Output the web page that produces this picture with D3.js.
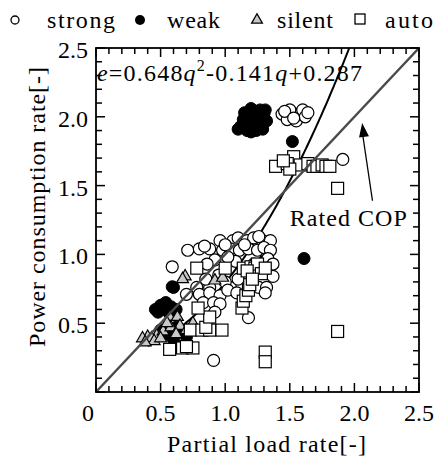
<!DOCTYPE html>
<html><head><meta charset="utf-8">
<script src="https://cdn.jsdelivr.net/npm/d3@7/dist/d3.min.js"></script>
</head><body style="margin:0">
<svg id="chart" width="436" height="459"></svg>
<script>
// ---- data (partial load rate q, power consumption rate e) ----
const seriesNames = ["strong", "weak", "silent", "auto"];
const strongData = [
  [1.44,2.02],[1.48,1.98],[1.52,2.03],[1.55,1.97],[1.58,2.02],[1.60,2.05],[1.62,2.00],[1.64,2.03],[1.50,2.05],[1.46,2.04],[1.53,1.99],
  [1.91,1.69],
  [0.96,1.10],[1.06,1.10],[1.10,1.12],[1.17,1.10],[1.22,1.12],[1.29,1.10],[1.35,1.10],[1.26,1.13],
  [0.71,1.03],[0.80,1.04],[0.88,1.04],[0.98,1.03],[1.04,1.04],[1.11,1.03],[1.18,1.04],[1.25,1.03],[1.30,1.05],[1.35,1.03],[0.84,1.06],[1.00,1.07],[1.15,1.07],
  [0.59,0.91],
  [0.92,0.96],[1.08,0.95],[1.33,0.97],[1.37,0.93],[0.86,0.93],[1.02,0.98],
  [0.78,0.76],[0.88,0.76],[1.04,0.76],[1.26,0.76],[1.32,0.76],[0.85,0.82],[0.95,0.85],[1.00,0.80],[1.10,0.82],[1.37,0.84],
  [0.70,0.71],[0.80,0.71],[0.88,0.72],[0.96,0.70],[1.02,0.74],[1.09,0.72],[1.31,0.72],
  [0.83,0.65],[0.91,0.65],[0.96,0.64],[0.92,0.58],
  [1.18,0.54],[0.91,0.23]
];
const weakData = [
  [1.12,1.93],[1.14,1.98],[1.15,2.03],[1.17,1.90],[1.18,1.95],[1.19,2.02],[1.20,2.06],[1.21,1.92],[1.22,1.98],[1.23,2.04],
  [1.24,1.90],[1.25,1.94],[1.26,2.00],[1.27,2.05],[1.28,1.96],[1.29,1.91],[1.30,2.02],[1.31,2.05],[1.32,1.97],[1.16,1.94],[1.20,1.89],[1.10,1.91],
  [1.52,1.82],[1.61,0.97],
  [0.59,0.765],[0.60,0.76],
  [0.46,0.60],[0.50,0.63],[0.54,0.65],[0.58,0.62],[0.62,0.60],[0.48,0.58],[0.56,0.58],
  [0.50,0.45],[0.55,0.42],[0.62,0.47],[0.67,0.44],[0.70,0.40],[0.60,0.38],
  [1.22,0.93],[1.27,0.90],[1.30,0.95]
];
const silentData = [
  [0.69,0.84],[0.92,0.81],[0.98,0.83],[0.67,0.82],
  [0.57,0.545],[0.63,0.545],
  [0.40,0.40],[0.47,0.41],[0.36,0.39],[0.43,0.39],[0.52,0.44],[0.58,0.47],[0.65,0.48],[0.70,0.45],[0.55,0.50],[0.75,0.50],[0.45,0.37],[0.38,0.36],[0.62,0.42],[0.50,0.39]
];
const autoData = [
  [1.39,1.64],[1.53,1.71],[1.48,1.66],[1.58,1.65],[1.64,1.66],[1.68,1.64],[1.71,1.64],[1.75,1.65],[1.78,1.64],[1.81,1.64],[1.50,1.62],[1.45,1.68],
  [1.87,1.48],[1.87,0.44],[1.31,0.29],[1.31,0.22],
  [0.78,0.90],[1.00,0.90],[1.14,0.90],[1.20,0.91],[1.23,0.90],[1.26,0.88],[1.29,0.90],[1.25,0.93],[1.28,0.86],[1.31,0.90],[1.17,0.88],
  [1.13,0.61],[1.14,0.66],[1.16,0.70],[1.18,0.74],[1.19,0.78],[1.21,0.82],
  [0.73,0.45],[0.82,0.45],[0.88,0.45],[0.975,0.45],[0.85,0.47],
  [0.57,0.31],[0.67,0.32],[0.75,0.32],[0.70,0.33],
  [0.88,0.545],[0.79,0.61]
];
const fitCoef = [0.648, -0.141, 0.287];   // e = a q^2 + b q + c
const fitRange = [0.4, 1.96];
const ratedLine = [[0,0],[2.5,2.5]];
const xTickLabels = ["0","0.5","1.0","1.5","2.0","2.5"];
const yTickLabels = ["0.5","1.0","1.5","2.0","2.5"];

const svg = d3.select("#chart");
const x = d3.scaleLinear().domain([0,2.5]).range([96,419]);
const y = d3.scaleLinear().domain([0,2.5]).range([392,48]);

function draw() {
  const plot = svg.append("g");

  // fit curve (under markers)
  const fitPts = d3.range(fitRange[0], fitRange[1]+0.0001, 0.01)
    .map(q => [q, fitCoef[0]*q*q + fitCoef[1]*q + fitCoef[2]]).filter(d => d[1] <= 2.5);
  plot.append("path").datum(fitPts)
    .attr("d", d3.line().x(d=>x(d[0])).y(d=>y(d[1])))
    .attr("fill","none").attr("stroke","#000").attr("stroke-width",2);

  // markers
  const mg = plot.append("g");
  mg.selectAll(".wk").data(weakData).join("circle")
    .attr("cx",d=>x(d[0])).attr("cy",d=>y(d[1])).attr("r",6)
    .attr("fill","#000").attr("stroke","#000").attr("stroke-width",1);
  mg.selectAll(".st").data(strongData).join("circle")
    .attr("cx",d=>x(d[0])).attr("cy",d=>y(d[1])).attr("r",6)
    .attr("fill","#fff").attr("stroke","#000").attr("stroke-width",1.2);
  const tri = d3.symbol().type(d3.symbolTriangle).size(62);
  mg.selectAll(".si").data(silentData).join("path")
    .attr("transform",d=>`translate(${x(d[0])},${y(d[1])})`)
    .attr("d",tri).attr("fill","#c8c8c8").attr("stroke","#000").attr("stroke-width",1.2);
  mg.selectAll(".au").data(autoData).join("rect")
    .attr("x",d=>x(d[0])-6).attr("y",d=>y(d[1])-6).attr("width",12).attr("height",12)
    .attr("fill","#fff").attr("stroke","#000").attr("stroke-width",1.2);

  // rated COP line (on top of markers)
  plot.append("path").datum(ratedLine)
    .attr("d", d3.line().x(d=>x(d[0])).y(d=>y(d[1])))
    .attr("fill","none").attr("stroke","#4a4a4a").attr("stroke-width",2.5);

  // frame + ticks
  const axG = plot.append("g");
  axG.append("rect").attr("x",x(0)).attr("y",y(2.5)).attr("width",x(2.5)-x(0)).attr("height",y(0)-y(2.5))
    .attr("fill","none").attr("stroke","#000").attr("stroke-width",1.8);
  d3.range(0, 2.5001, 0.1).forEach(v => {
    const major = Math.abs(v/0.5 - Math.round(v/0.5)) < 1e-6;
    const L = major ? 9 : 6;
    axG.append("line").attr("x1",x(v)).attr("x2",x(v)).attr("y1",y(0)).attr("y2",y(0)-L).attr("stroke","#000").attr("stroke-width",1.5);
    axG.append("line").attr("x1",x(v)).attr("x2",x(v)).attr("y1",y(2.5)).attr("y2",y(2.5)+L).attr("stroke","#000").attr("stroke-width",1.5);
    axG.append("line").attr("y1",y(v)).attr("y2",y(v)).attr("x1",x(0)).attr("x2",x(0)+L).attr("stroke","#000").attr("stroke-width",1.5);
    axG.append("line").attr("y1",y(v)).attr("y2",y(v)).attr("x1",x(2.5)).attr("x2",x(2.5)-L).attr("stroke","#000").attr("stroke-width",1.5);
  });

  // Rated COP annotation arrow
  const tip = [2.06,1.955], tail = [2.14,1.39];
  plot.append("line").attr("x1",x(tail[0])).attr("y1",y(tail[1])).attr("x2",x(tip[0])).attr("y2",y(tip[1])+8)
    .attr("stroke","#000").attr("stroke-width",1.3);
  {
    const tx=x(tip[0]), ty=y(tip[1]);
    const ang = Math.atan2(y(tail[1])-ty, x(tail[0])-tx);
    const len=14, w=5;
    const bx=tx+len*Math.cos(ang), by=ty+len*Math.sin(ang);
    const px=-Math.sin(ang)*w, py=Math.cos(ang)*w;
    plot.append("path").attr("d",`M${tx},${ty}L${bx+px},${by+py}L${bx-px},${by-py}Z`).attr("fill","#000");
  }

  // legend symbols
  const lg = plot.append("g");
  lg.append("circle").attr("cx",15).attr("cy",20).attr("r",4).attr("fill","#fff").attr("stroke","#000").attr("stroke-width",1.3);
  lg.append("circle").attr("cx",140).attr("cy",20).attr("r",5).attr("fill","#000");
  lg.append("path").attr("transform","translate(257,20)").attr("d",d3.symbol().type(d3.symbolTriangle).size(50))
    .attr("fill","#c8c8c8").attr("stroke","#000").attr("stroke-width",1.3);
  lg.append("rect").attr("x",355).attr("y",14).attr("width",10).attr("height",10).attr("fill","#fff").attr("stroke","#000").attr("stroke-width",1.3);

  // ---- texts (serif, same styling path as a plain font test) ----
  const labels = [];
  xTickLabels.forEach(d => labels.push({s:d, x:x(+d) + (d==="0" ? -8 : 0), y:421, a:"middle"}));
  yTickLabels.forEach(d => labels.push({s:d, x:88, y:y(+d)+10, a:"end"}));
  labels.push({s:"Partial load rate[-]", x:167, y:452, w:199});
  labels.push({s:"Power consumption rate[-]", x:45, y:347, w:280, r:-90});
  labels.push({s:"Rated COP", x:x(1.50), y:y(1.206), w:117});
  labels.push({s:seriesNames[0], x:47, y:28, w:68});
  labels.push({s:seriesNames[1], x:167, y:28, w:53});
  labels.push({s:seriesNames[2], x:277, y:28, w:56});
  labels.push({s:seriesNames[3], x:385, y:28, w:48});

  const tg = svg.append("g");
  const ts = tg.selectAll("text").data(labels).join("text")
    .attr("transform", d => `translate(${d.x},${d.y}) rotate(${d.r||0})`)
    .attr("text-anchor", d => d.a || "start")
    .style("font-family", '"Liberation Serif"')
    .style("font-size", "24px")
    .text(d => d.s);
  ts.filter(d => d.w).attr("textLength", d => d.w).attr("lengthAdjust","spacing");

  const eq = tg.append("text").attr("transform","translate(97,81)")
    .style("font-family", '"Liberation Serif"').style("font-size","24px")
    .attr("textLength",265).attr("lengthAdjust","spacing");
  eq.append("tspan").style("font-style","italic").text("e");
  eq.append("tspan").text("=" + fitCoef[0].toFixed(3));
  eq.append("tspan").style("font-style","italic").text("q");
  eq.append("tspan").attr("dy",-10).style("font-size","16px").text("2");
  eq.append("tspan").attr("dy",10).text(fitCoef[1].toFixed(3));
  eq.append("tspan").style("font-style","italic").text("q");
  eq.append("tspan").text("+" + fitCoef[2].toFixed(3));
}

draw();
</script>
</body></html>
